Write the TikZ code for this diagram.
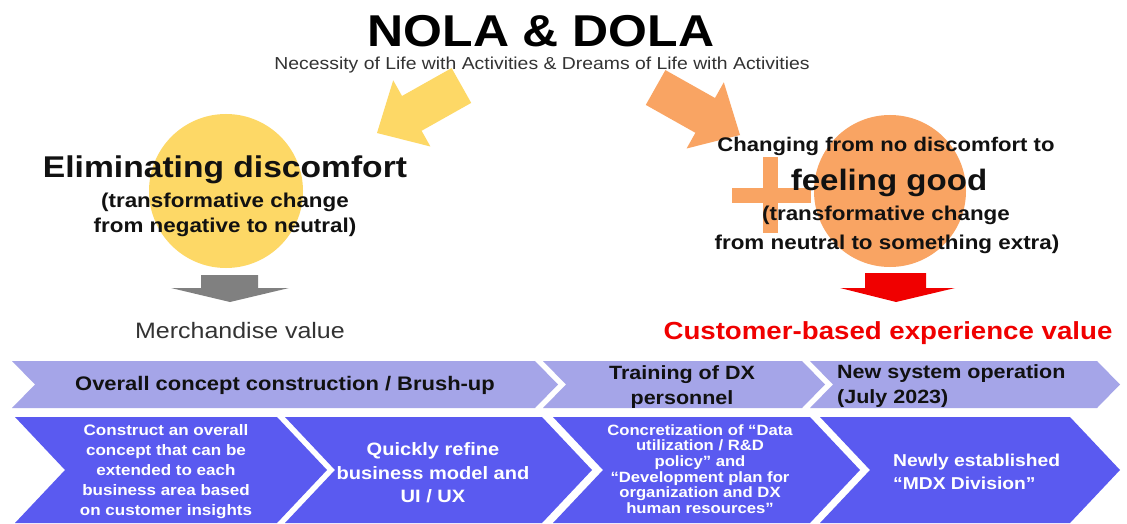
\documentclass[tikz,border=0pt]{standalone}
\usepackage{fontspec}
\setmainfont{Liberation Sans}[FakeStretch=1.12]
\definecolor{goldfill}{HTML}{FDD866}
\definecolor{orangefill}{HTML}{F9A463}
\definecolor{chevlight}{HTML}{A5A5E8}
\definecolor{chevdark}{HTML}{5A5AF0}
\definecolor{arrowgray}{HTML}{808080}
\definecolor{valuered}{HTML}{F00000}
\definecolor{softblack}{HTML}{111111}
\definecolor{greytext}{HTML}{333333}
\newcommand\fsz[2]{\fontsize{#1}{#2}\selectfont}
\begin{document}
\begin{tikzpicture}[x=1pt,y=-1pt,
  txt/.style={inner sep=0pt, outer sep=0pt, text=softblack},
  chevtop/.style={fill=chevlight},
  chevbot/.style={fill=chevdark},
  toplabel/.style={inner sep=0pt, text=softblack, font=\bfseries},
  botlabel/.style={inner sep=0pt, text=white, font=\bfseries}]
\fill[white] (0,0) rectangle (1127,524);
\useasboundingbox (0,0) rectangle (1127,524);

% --- circles and plus sign
\fill[goldfill] (226,191) circle (77);
\fill[orangefill] (890,191) circle (76);
\fill[orangefill] (763,157) rectangle (778,233);
\fill[orangefill] (732,188) rectangle (811,203);

% block arrows coming from the title
\fill[goldfill] (377,133) -- (393.2,80.3) -- (402.0,96.0) -- (451.6,68.1)
  -- (471.2,102.9) -- (421.6,130.8) -- (430.4,146.5) -- cycle;
\fill[orangefill] (740,135) -- (723.8,82.3) -- (715.0,98.0) -- (665.4,70.1)
  -- (645.8,104.9) -- (695.4,132.8) -- (686.6,148.5) -- cycle;

% down arrows to the values
\fill[arrowgray] (201,275) -- (258,275) -- (258,288) -- (289,288) -- (230,302)
  -- (171,288) -- (201,288) -- cycle;
\fill[valuered] (865,273) -- (926,273) -- (926,288) -- (955,288) -- (896,302)
  -- (840,288) -- (865,288) -- cycle;

% --- headings
\node[txt, anchor=base, text=black, font=\bfseries\fsz{44.6}{50}] (title) at (541,47) {NOLA \& DOLA};
\node[txt, anchor=base, text=greytext, font=\fsz{17.3}{20}] (subtitle) at (542,70)
  {Necessity of Life with Activities \& Dreams of Life with Activities};

% --- left side
\node[txt, anchor=base, font=\bfseries\fsz{30}{34}] (elim) at (225,177) {Eliminating discomfort};
\node[txt, anchor=base, font=\bfseries\fsz{20}{24}] (elimA) at (225,207) {(transformative change};
\node[txt, anchor=base, font=\bfseries\fsz{20}{24}] (elimB) at (225,232) {from negative to neutral)};
\node[txt, anchor=base, text=greytext, font=\fsz{22.3}{26}] (merch) at (240,338) {Merchandise value};

% --- right side
\node[txt, anchor=base, font=\bfseries\fsz{19.7}{24}] (chg) at (886,152) {Changing from no discomfort to};
\node[txt, anchor=base, font=\bfseries\fsz{29.5}{34}] (good) at (889,190) {feeling good};
\node[txt, anchor=base, font=\bfseries\fsz{20}{24}] (goodA) at (886,220) {(transformative change};
\node[txt, anchor=base, font=\bfseries\fsz{20}{24}] (goodB) at (887,249) {from neutral to something extra)};
\node[txt, anchor=base, text=valuered, font=\bfseries\fsz{24.7}{28}] (cust) at (888,339) {Customer-based experience value};

% --- upper chevron row
\fill[chevtop] (12,361) -- (535,361) -- (558,384.5) -- (535,408) -- (12,408) -- (35,384.5) -- cycle;
\fill[chevtop] (543,361) -- (802,361) -- (825,384.5) -- (802,408) -- (543,408) -- (566,384.5) -- cycle;
\fill[chevtop] (810,361) -- (1097,361) -- (1120,384.5) -- (1097,408) -- (810,408) -- (833,384.5) -- cycle;

\node[toplabel, font=\bfseries\fsz{19.6}{24}] (phaseA) at (285,385) {Overall concept construction / Brush-up};
\node[toplabel, align=center, font=\bfseries\fsz{19.2}{25}] (phaseB) at (682,387) {Training of DX\\personnel};
\node[toplabel, align=left, anchor=west, font=\bfseries\fsz{19.2}{25}] (phaseC) at (837,386) {New system operation\\(July 2023)};

% --- lower chevron row
\fill[chevbot] (15,417) -- (277,417) -- (327,470) -- (277,523) -- (15,523) -- (65,470) -- cycle;
\fill[chevbot] (285,417) -- (542,417) -- (592,470) -- (542,523) -- (285,523) -- (335,470) -- cycle;
\fill[chevbot] (553,417) -- (810,417) -- (860,470) -- (810,523) -- (553,523) -- (603,470) -- cycle;
\fill[chevbot] (820,417) -- (1070,417) -- (1120,470) -- (1070,523) -- (820,523) -- (870,470) -- cycle;

\node[botlabel, align=center, font=\bfseries\fsz{15.2}{20}] (stepA) at (166,472)
  {Construct an overall\\concept that can be\\extended to each\\business area based\\on customer insights};
\node[botlabel, align=center, font=\bfseries\fsz{17.9}{23.5}] (stepB) at (433,473)
  {Quickly refine\\business model and\\UI / UX};
\node[botlabel, align=center, font=\bfseries\fsz{14.9}{15.6}] (stepC) at (700,469)
  {Concretization of “Data\\utilization / R\&D\\policy” and\\“Development plan for\\organization and DX\\human resources”};
\node[botlabel, align=left, anchor=west, font=\bfseries\fsz{17.2}{23}] (stepD) at (893,471.5)
  {Newly established\\“MDX Division”};
\end{tikzpicture}
\end{document}
